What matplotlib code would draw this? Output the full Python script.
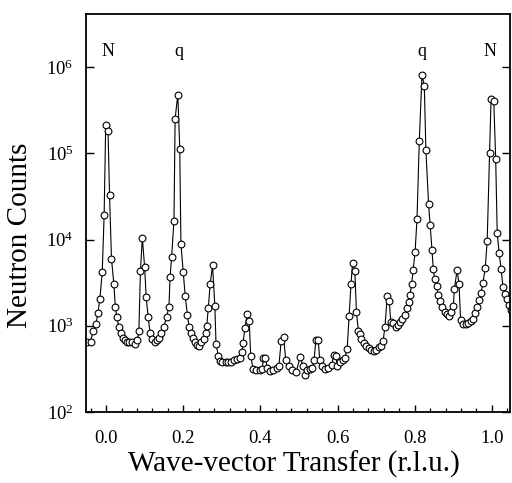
import numpy as np
import matplotlib
matplotlib.use("Agg")
import matplotlib.pyplot as plt
from matplotlib.ticker import MultipleLocator, NullLocator, FixedLocator

plt.rcParams['font.family'] = ['Liberation Serif', 'DejaVu Serif']
plt.rcParams['mathtext.fontset'] = 'stix'

# wave-vector transfer (r.l.u.) and neutron counts
q_rlu = [
    -0.049, -0.040, -0.034, -0.026, -0.021, -0.016, -0.010, -0.005, -0.001, 0.005,
    0.009, 0.014, 0.020, 0.024, 0.028, 0.033, 0.038, 0.043, 0.048, 0.054,
    0.060, 0.067, 0.074, 0.081, 0.085, 0.089, 0.094, 0.100, 0.104, 0.109,
    0.114, 0.120, 0.126, 0.131, 0.137, 0.143, 0.150, 0.157, 0.163, 0.166,
    0.170, 0.176, 0.179, 0.186, 0.191, 0.194, 0.200, 0.205, 0.211, 0.215,
    0.220, 0.225, 0.231, 0.236, 0.242, 0.247, 0.253, 0.258, 0.261, 0.265,
    0.270, 0.276, 0.282, 0.285, 0.291, 0.296, 0.301, 0.310, 0.317, 0.325,
    0.332, 0.339, 0.347, 0.352, 0.355, 0.360, 0.366, 0.371, 0.375, 0.381,
    0.389, 0.398, 0.405, 0.408, 0.413, 0.418, 0.424, 0.433, 0.442, 0.448,
    0.454, 0.460, 0.466, 0.474, 0.483, 0.493, 0.503, 0.511, 0.516, 0.522,
    0.528, 0.535, 0.539, 0.544, 0.550, 0.554, 0.561, 0.567, 0.576, 0.585,
    0.591, 0.596, 0.599, 0.606, 0.613, 0.619, 0.625, 0.630, 0.635, 0.639,
    0.645, 0.649, 0.654, 0.658, 0.662, 0.668, 0.675, 0.682, 0.688, 0.694,
    0.701, 0.708, 0.714, 0.718, 0.723, 0.729, 0.734, 0.738, 0.744, 0.751,
    0.757, 0.762, 0.768, 0.774, 0.779, 0.784, 0.788, 0.792, 0.796, 0.801,
    0.806, 0.812, 0.819, 0.825, 0.829, 0.836, 0.840, 0.845, 0.848, 0.852,
    0.857, 0.861, 0.866, 0.872, 0.878, 0.883, 0.889, 0.894, 0.900, 0.903,
    0.910, 0.915, 0.919, 0.926, 0.933, 0.939, 0.945, 0.950, 0.956, 0.962,
    0.967, 0.972, 0.977, 0.983, 0.988, 0.994, 0.998, 1.005, 1.010, 1.014,
    1.019, 1.024, 1.029, 1.035, 1.040, 1.045, 1.049,
]
counts = [
    640, 655, 860, 1060, 1420, 2070, 4150, 19500, 212000, 183000,
    32400, 6020, 3090, 1670, 1250, 980, 835, 730, 675, 640,
    640, 655, 622, 675, 860, 4260, 10500, 4740, 2130, 1280,
    835, 693, 655, 675, 730, 835, 980, 1280, 1670, 3720,
    6350, 16600, 253000, 480000, 113500, 8990, 4150, 2240, 1320, 980,
    835, 730, 655, 606, 582, 640, 693, 835, 993, 1615,
    3090, 5000, 1690, 622, 444, 390, 378, 385, 380, 385,
    396, 417, 425, 494, 634, 947, 1370, 1150, 444, 317,
    307, 311, 317, 423, 423, 325, 295, 311, 328, 346,
    662, 745, 396, 340, 307, 292, 434, 340, 272, 311,
    317, 325, 398, 680, 680, 398, 340, 317, 325, 355,
    464, 444, 346, 378, 398, 425, 540, 1315, 3090, 5370,
    4290, 1440, 881, 792, 706, 634, 590, 555, 530, 516,
    520, 570, 590, 662, 972, 2240, 1930, 1120, 1080, 972,
    1010, 1100, 1200, 1350, 1590, 1910, 2300, 3010, 4410, 7120,
    17100, 140500, 818000, 599000, 110500, 25900, 14900, 7510, 4580, 3440,
    2870, 2300, 1930, 1650, 1460, 1360, 1300, 1440, 1690, 2670,
    4430, 3030, 1180, 1060, 1050, 1080, 1130, 1210, 1390, 1660,
    1980, 2430, 3150, 4700, 9730, 100000, 428000, 409000, 86200, 11800,
    6940, 4580, 2780, 2320, 2020, 1760, 1540,
]

# peak labels: nuclear (N) and incommensurate (q)
peak_names = ["N", "q", "q", "N"]
peak_pos   = [0.006, 0.188, 0.819, 0.994]
label_y    = 1.34e6

fig = plt.figure(figsize=(5.12, 4.83), dpi=100)
ax  = fig.add_axes([0.168, 0.147, 0.828, 0.824])

ax.plot(q_rlu, counts, color='black', lw=0.8,
        marker='o', ms=4.9, mfc='white', mec='black', mew=0.8)

for name, xp in zip(peak_names, peak_pos):
    ax.text(xp, label_y, name, ha='center', va='baseline', fontsize=13)

ax.set_yscale('log')
ax.set_xlim(-0.052, 1.047)
ax.set_ylim(1e2, 4.12e6)

ax.xaxis.set_major_locator(MultipleLocator(0.2))
ax.xaxis.set_minor_locator(MultipleLocator(0.04))
ax.yaxis.set_major_locator(FixedLocator([1e2, 1e3, 1e4, 1e5, 1e6]))
ax.yaxis.set_minor_locator(NullLocator())
ax.xaxis.set_major_formatter(matplotlib.ticker.FormatStrFormatter('%.1f'))

ax.tick_params(axis='both', which='both', direction='in', labelsize=13.5)
ax.tick_params(axis='y', which='major', length=6, width=1.0, right=True, pad=9)
ax.tick_params(axis='x', which='major', length=5, width=1.0, top=False, pad=13)
ax.tick_params(axis='x', which='minor', length=3, width=0.9, top=False)

for sp in ax.spines.values():
    sp.set_linewidth(1.3)

ax.set_xlabel("Wave-vector Transfer (r.l.u.)", fontsize=21)
ax.xaxis.set_label_coords(0.49, -0.098)
ax.set_ylabel("Neutron Counts", fontsize=21)
ax.yaxis.set_label_coords(-0.125, 0.445)

fig.savefig("out.png", dpi=100)
